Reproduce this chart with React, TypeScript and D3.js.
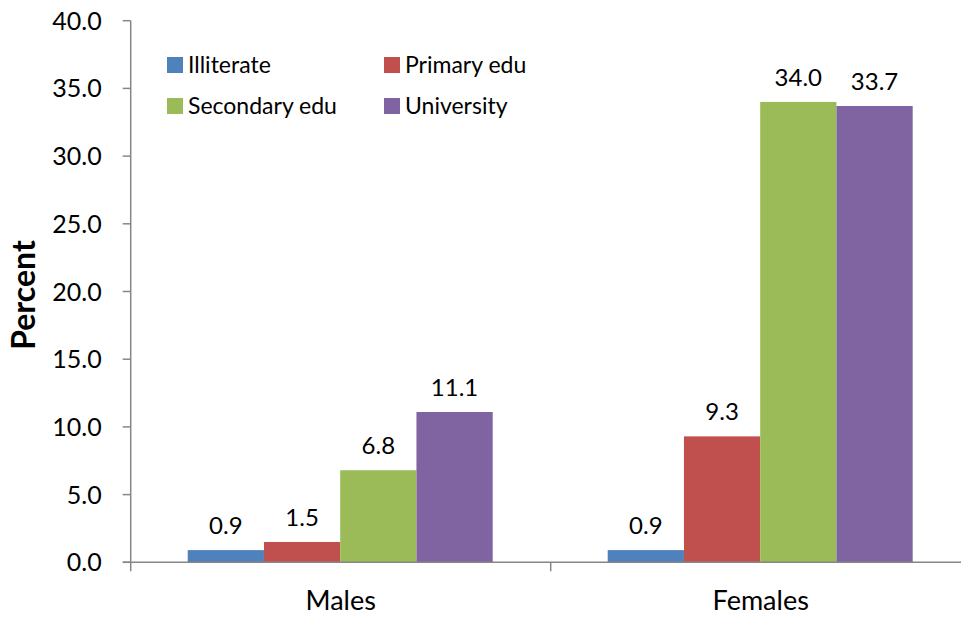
import React from "react";
import * as d3 from "d3";

const categories = ["Males", "Females"];
const seriesNames = ["Illiterate", "Primary edu", "Secondary edu", "University"];
const illiterate = [0.9, 0.9];
const primaryEdu = [1.5, 9.3];
const secondaryEdu = [6.8, 34.0];
const university = [11.1, 33.7];
const seriesColors = ["#4F81BD", "#C0504D", "#9BBB59", "#8064A2"];
const yTicks = [0, 5, 10, 15, 20, 25, 30, 35, 40];

const seriesValues = [illiterate, primaryEdu, secondaryEdu, university];

const W = 961;
const H = 617;
const FONT = "Lato, 'Open Sans', sans-serif";

export default function App() {
  const x0 = 130.7;
  const band = 420;
  const x = d3
    .scaleBand<string>()
    .domain(categories)
    .range([x0, x0 + band * categories.length])
    .paddingInner(0)
    .paddingOuter(0);
  const xs = d3
    .scaleBand<string>()
    .domain(seriesNames)
    .range([57, band - 58])
    .padding(0);
  const y = d3.scaleLinear().domain([0, 40]).range([562.3, 20.7]);
  const axisColor = "#868686";

  return (
    <div style={{ position: "absolute", left: 0, top: 0 }}>
      <svg width={W} height={H} style={{ display: "block", background: "#fff" }}>
        {/* bars */}
        {categories.map((c, ci) =>
          seriesNames.map((s, si) => {
            const v = seriesValues[si][ci];
            const bx = (x(c) as number) + (xs(s) as number);
            const bw = xs.bandwidth();
            return (
              <g key={c + s}>
                <rect x={bx} y={y(v)} width={bw} height={y(0) - y(v)} fill={seriesColors[si]} />
                <text
                  x={bx + bw / 2}
                  y={y(v) - 16}
                  textAnchor="middle"
                  fontFamily={FONT}
                  fontSize={24}
                  fill="#000"
                >
                  {v.toFixed(1)}
                </text>
              </g>
            );
          })
        )}
        {/* y axis */}
        <line x1={x0} x2={x0} y1={y(40)} y2={y(0) + 9} stroke={axisColor} strokeWidth={1.5} />
        {yTicks.map((t) => (
          <g key={t}>
            <line x1={x0 - 8} x2={x0} y1={y(t)} y2={y(t)} stroke={axisColor} strokeWidth={1.5} />
            <text
              x={x0 - 29}
              y={y(t)}
              dy="0.36em"
              textAnchor="end"
              fontFamily={FONT}
              fontSize={25}
              fill="#000"
            >
              {t.toFixed(1)}
            </text>
          </g>
        ))}
        {/* x axis */}
        <line x1={x0 - 8} x2={W} y1={y(0)} y2={y(0)} stroke={axisColor} strokeWidth={1.5} />
        {categories.map((c) => (
          <g key={c}>
            <line
              x1={(x(c) as number) + band}
              x2={(x(c) as number) + band}
              y1={y(0)}
              y2={y(0) + 9}
              stroke={axisColor}
              strokeWidth={1.5}
            />
            <text
              x={(x(c) as number) + band / 2}
              y={610}
              textAnchor="middle"
              fontFamily={FONT}
              fontSize={27}
              fill="#000"
            >
              {c}
            </text>
          </g>
        ))}
        {/* y title */}
        <text
          transform={`translate(35,295) rotate(-90)`}
          textAnchor="middle"
          fontFamily={FONT}
          fontWeight="bold"
          fontSize={32}
          fill="#000"
        >
          Percent
        </text>
        {/* legend */}
        {seriesNames.map((s, i) => {
          const col = i % 2;
          const row = Math.floor(i / 2);
          const lx = 167 + col * 217;
          const ly = 57 + row * 41;
          return (
            <g key={s}>
              <rect x={lx} y={ly} width={16} height={16} fill={seriesColors[i]} />
              <text x={lx + 21} y={ly + 16} fontFamily={FONT} fontSize={23} fill="#000">
                {s}
              </text>
            </g>
          );
        })}
      </svg>
    </div>
  );
}
